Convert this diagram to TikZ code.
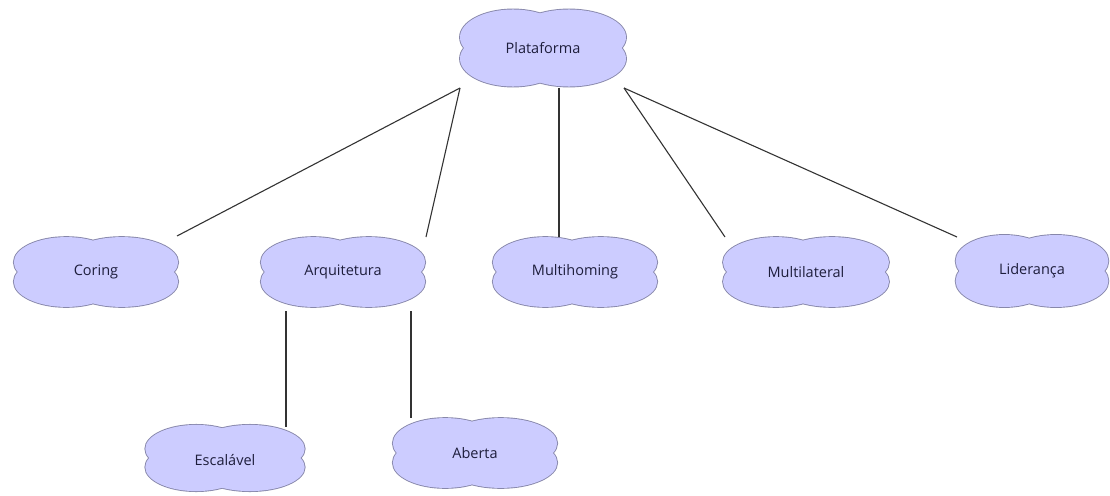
\documentclass[tikz,border=0pt]{standalone}
\usepackage{fontspec}
\setmainfont{Open Sans}
\definecolor{cloudfill}{RGB}{204,204,255}
\definecolor{cloudline}{RGB}{135,135,170}
\definecolor{txt}{RGB}{30,30,60}
\begin{document}
\begin{tikzpicture}[x=1pt,y=-1pt,
  cloudpic/.pic={
    \path[draw=cloudline, line width=1.8pt]
      (-30,-10) ellipse [x radius=53, y radius=26]
      (26,-10) ellipse [x radius=57, y radius=26]
      (-30,10) ellipse [x radius=53, y radius=26]
      (26,10) ellipse [x radius=57, y radius=26];
    \path[fill=cloudfill]
      (-30,-10) ellipse [x radius=53, y radius=26]
      (26,-10) ellipse [x radius=57, y radius=26]
      (-30,10) ellipse [x radius=53, y radius=26]
      (26,10) ellipse [x radius=57, y radius=26];
  },
  label/.style={inner sep=0pt, text=txt, font=\fontsize{14.5}{16}\selectfont},
  link/.style={draw=black!80, line width=1.1pt}]
\useasboundingbox (0,0) rectangle (1110,495);
\pic[xscale=1.0, yscale=1.07] at (543,48) {cloudpic};
\pic[xscale=0.99, yscale=0.97] at (96,272) {cloudpic};
\pic[xscale=0.99, yscale=0.97] at (343,272) {cloudpic};
\pic[xscale=0.99, yscale=0.97] at (575,272) {cloudpic};
\pic[xscale=1.0, yscale=0.97] at (806,272) {cloudpic};
\pic[xscale=0.92, yscale=1.0] at (1032,271) {cloudpic};
\pic[xscale=0.96, yscale=0.92] at (225,458) {cloudpic};
\pic[xscale=0.99, yscale=0.97] at (475,453) {cloudpic};

\node[label] (plat) at (543,48) {Plataforma};
\node[label] (coring) at (96,272) {Coring};
\node[label] (arq) at (343,272) {Arquitetura};
\node[label] (multi) at (575,272) {Multihoming};
\node[label] (mlat) at (806,272) {Multilateral};
\node[label] (lid) at (1032,271) {Liderança};
\node[label] (esc) at (225,460) {Escalável};
\node[label] (abe) at (475,453) {Aberta};

\draw[link] ([shift={(-83,40)}]plat.center) -- ([shift={(81,-36)}]coring.center);
\draw[link] ([shift={(-83,40)}]plat.center) -- ([shift={(83,-35)}]arq.center);
\draw[link] ([shift={(16,40)}]plat.center) -- ([shift={(-16,-35)}]multi.center);
\draw[link] ([shift={(81,40)}]plat.center) -- ([shift={(-81,-35)}]mlat.center);
\draw[link] ([shift={(81,40)}]plat.center) -- ([shift={(-75,-34)}]lid.center);
\draw[link] ([shift={(-57,39)}]arq.center) -- ([shift={(61,-33)}]esc.center);
\draw[link] ([shift={(68,39)}]arq.center) -- ([shift={(-64,-35)}]abe.center);
\end{tikzpicture}
\end{document}
